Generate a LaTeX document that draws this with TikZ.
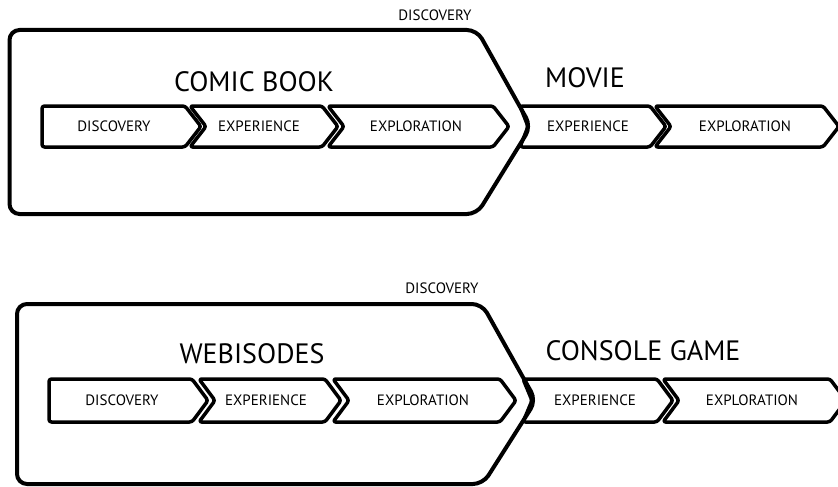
\documentclass[tikz,border=0pt]{standalone}
\usepackage{fontspec}
\setmainfont{PT Sans}

\begin{document}
\begin{tikzpicture}[x=1pt,y=-1pt,
    frame/.style={line width=4pt,rounded corners=10pt},
    chev/.style={line width=3.5pt,rounded corners=2.5pt,line join=round},
    small/.style={inner sep=0pt,font=\fontsize{15}{18}\selectfont},
    big/.style={inner sep=0pt,font=\fontsize{28}{32}\selectfont}]
\useasboundingbox (0,0) rectangle (838,487);

% first row: comic book, then movie
\foreach \l/\r/\n in {42/185/0,190/322/16,328/493/16,520/650/8,655/823/16}
  \draw[chev] (\l,106) -- (\r,106) -- (\r+16,126.5) -- (\r,147) -- (\l,147) -- (\l+\n,126.5) -- cycle;
\draw[frame] (200,30) -- (477,30) -- (531,126.5) -- (477,214) -- (9.5,214) -- (9.5,30) -- cycle;
\node[small] (discA) at (435,15.5) {DISCOVERY};
\node[big] (comic) at (254,82) {COMIC BOOK};
\node[big] (movie) at (585,78) {MOVIE};
\node[small] (cbdisc) at (114,126.5) {DISCOVERY};
\node[small] (cbexp) at (259,126.5) {EXPERIENCE};
\node[small] (cbexpl) at (416,126.5) {EXPLORATION};
\node[small] (mvexp) at (588,126.5) {EXPERIENCE};
\node[small] (mvexpl) at (745,126.5) {EXPLORATION};

% second row: webisodes, then console game
\foreach \l/\r/\n in {49/192/0,199/325/16,333/500/16,523/657/9,663/830/16}
  \draw[chev] (\l,379) -- (\r,379) -- (\r+16,400.5) -- (\r,422) -- (\l,422) -- (\l+\n,400.5) -- cycle;
\draw[frame] (200,304) -- (482,304) -- (536,400.5) -- (483,484) -- (17,484) -- (17,304) -- cycle;
\node[small] (discB) at (442,288) {DISCOVERY};
\node[big] (webi) at (252,354) {WEBISODES};
\node[big] (console) at (643,351) {CONSOLE GAME};
\node[small] (wbdisc) at (122,400.5) {DISCOVERY};
\node[small] (wbexp) at (266,400.5) {EXPERIENCE};
\node[small] (wbexpl) at (423,400.5) {EXPLORATION};
\node[small] (cgexp) at (595,400.5) {EXPERIENCE};
\node[small] (cgexpl) at (752,400.5) {EXPLORATION};
\end{tikzpicture}
\end{document}
